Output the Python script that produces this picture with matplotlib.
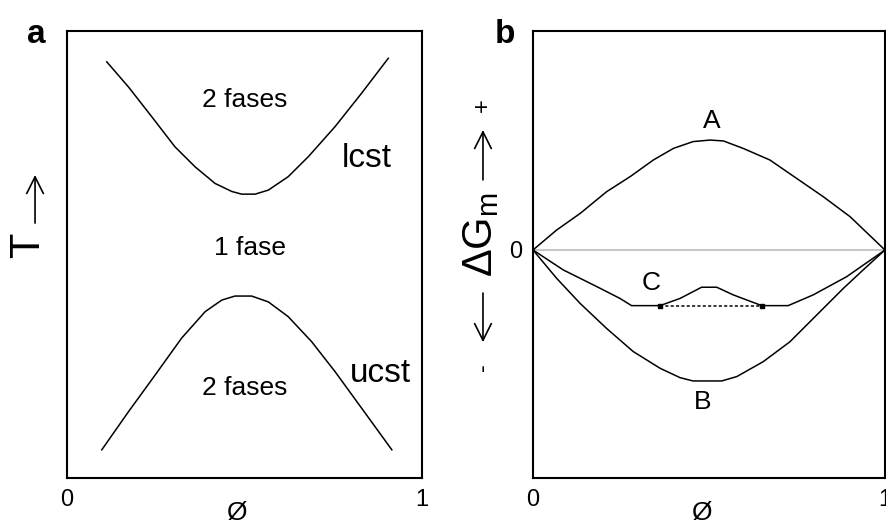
import matplotlib
matplotlib.use('Agg')
import matplotlib.pyplot as plt

plt.rcParams['font.family'] = ['Liberation Sans', 'DejaVu Sans']
plt.rcParams['mathtext.fontset'] = 'custom'
plt.rcParams['mathtext.rm'] = 'Liberation Sans'

# Panel a: phase diagram (lcst and ucst curves)
lcst_x = [0.112, 0.173, 0.239, 0.304, 0.361, 0.417, 0.464, 0.492, 0.530, 0.567, 0.623, 0.680, 0.755, 0.830, 0.905]
lcst_y = [0.931, 0.875, 0.808, 0.741, 0.696, 0.659, 0.641, 0.635, 0.635, 0.644, 0.674, 0.719, 0.786, 0.861, 0.939]
ucst_x = [0.098, 0.173, 0.248, 0.323, 0.389, 0.436, 0.473, 0.520, 0.567, 0.623, 0.689, 0.755, 0.830, 0.915]
ucst_y = [0.063, 0.148, 0.230, 0.313, 0.372, 0.398, 0.407, 0.407, 0.394, 0.361, 0.305, 0.238, 0.156, 0.063]

# Panel b: free energy of mixing curves A, B, C
a_x = [0, 0.067, 0.134, 0.209, 0.276, 0.342, 0.399, 0.455, 0.503, 0.541, 0.597, 0.673, 0.749, 0.825, 0.901, 1.0]
a_y = [0, 0.091, 0.167, 0.266, 0.335, 0.411, 0.464, 0.495, 0.502, 0.498, 0.464, 0.411, 0.327, 0.243, 0.152, 0]
b_x = [0, 0.067, 0.134, 0.209, 0.285, 0.361, 0.418, 0.455, 0.536, 0.579, 0.654, 0.730, 0.806, 0.882, 0.938, 1.0]
b_y = [0, -0.129, -0.244, -0.358, -0.464, -0.540, -0.583, -0.598, -0.598, -0.578, -0.510, -0.419, -0.297, -0.175, -0.091, 0]
c_x = [0, 0.086, 0.181, 0.247, 0.280, 0.361, 0.418, 0.479, 0.522, 0.569, 0.650, 0.725, 0.796, 0.891, 1.0]
c_y = [0, -0.091, -0.167, -0.221, -0.254, -0.254, -0.221, -0.170, -0.170, -0.205, -0.254, -0.254, -0.205, -0.122, 0]
tangent_x = [0.361, 0.650]
tangent_y = [-0.254, -0.254]

fig = plt.figure(figsize=(8.87, 5.2), dpi=100)
ax1 = fig.add_axes([0.0755, 0.0808, 0.4003, 0.8596])
ax2 = fig.add_axes([0.6009, 0.0808, 0.3968, 0.8596])

for ax in (ax1, ax2):
    for s in ax.spines.values():
        s.set_linewidth(1.5)
    ax.set_xlim(0, 1)
    ax.set_xticks([0, 1])
    ax.set_xticklabels(['0', '1'])
    ax.tick_params(length=0, labelsize=17, pad=8)
    ax.text(0.477, -0.05, 'Ø', transform=ax.transAxes, ha='center', va='top', fontsize=19)

# panel a
ax1.set_ylim(0, 1)
ax1.set_yticks([])
ax1.plot(lcst_x, lcst_y, color='black', lw=1.1)
ax1.plot(ucst_x, ucst_y, color='black', lw=1.1)
ax1.text(0.501, 0.830, '2 fases', ha='center', va='baseline', fontsize=19)
ax1.text(0.845, 0.696, 'lcst', ha='center', va='baseline', fontsize=24)
ax1.text(0.515, 0.499, '1 fase', ha='center', va='baseline', fontsize=19)
ax1.text(0.882, 0.215, 'ucst', ha='center', va='baseline', fontsize=24)
ax1.text(0.501, 0.186, '2 fases', ha='center', va='baseline', fontsize=19)

# panel b
ax2.set_ylim(-1.041, 1.0)
ax2.set_yticks([0])
ax2.set_yticklabels(['0'])
ax2.plot([0, 1], [0, 0], color='#c8c8c8', lw=1.5)
ax2.plot(a_x, a_y, color='black', lw=1.1, clip_on=False)
ax2.plot(b_x, b_y, color='black', lw=1.1, clip_on=False)
ax2.plot(c_x, c_y, color='black', lw=1.1, clip_on=False)
ax2.plot(tangent_x, tangent_y, color='black', lw=1.1, ls=(0, (2, 1.5)))
ax2.plot(tangent_x, tangent_y, ls='none', marker='s', ms=3, color='black')
ax2.text(0.509, 0.557, 'A', ha='center', va='baseline', fontsize=19)
ax2.text(0.483, -0.726, 'B', ha='center', va='baseline', fontsize=19)
ax2.text(0.337, -0.183, 'C', ha='center', va='baseline', fontsize=19)

# panel letters and axis labels
fig.text(0.041, 0.917, 'a', ha='center', va='baseline', fontsize=24, fontweight='bold')
fig.text(0.569, 0.917, 'b', ha='center', va='baseline', fontsize=24, fontweight='bold')

arrow = dict(arrowstyle='->, head_length=0.6, head_width=0.3', lw=1.2, color='black',
             shrinkA=0, shrinkB=0, mutation_scale=20)
fig.text(0.0316, 0.529, 'T', rotation=90, ha='center', va='center', fontsize=30)
fig.patches.append(matplotlib.patches.FancyArrowPatch((0.0395, 0.571), (0.0395, 0.6635),
                                                      transform=fig.transFigure, **arrow))

fig.text(0.5445, 0.798, '+', rotation=90, ha='center', va='center', fontsize=17)
fig.patches.append(matplotlib.patches.FancyArrowPatch((0.5445, 0.654), (0.5445, 0.75),
                                                      transform=fig.transFigure, **arrow))
fig.text(0.542, 0.548, r'$\Delta\mathrm{G}_\mathrm{m}$', rotation=90, ha='center', va='center', fontsize=30)
fig.patches.append(matplotlib.patches.FancyArrowPatch((0.5445, 0.4365), (0.5445, 0.342),
                                                      transform=fig.transFigure, **arrow))
fig.text(0.5445, 0.294, '-', rotation=90, ha='center', va='center', fontsize=17)

fig.savefig('out.png', dpi=100)
